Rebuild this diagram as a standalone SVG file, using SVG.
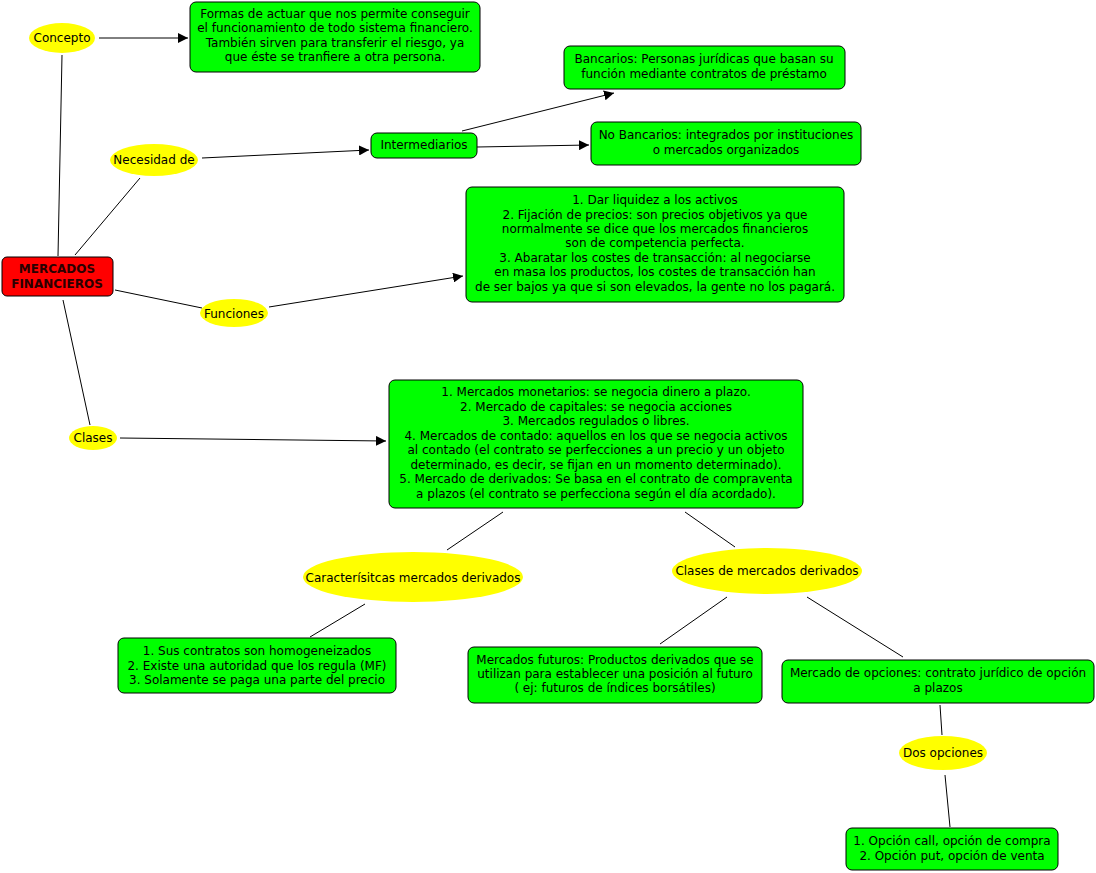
<svg xmlns="http://www.w3.org/2000/svg" width="1096" height="873" viewBox="0 0 1096 873">
<defs>
<style>
text{font-family:"DejaVu Sans","Verdana",sans-serif;font-size:12px;fill:#000;text-anchor:middle}
.box{fill:#00ff00;stroke:#000;stroke-width:1}
.ell{fill:#ffff00;stroke:none}
.root{fill:#ff0000;stroke:#000;stroke-width:1}
.bold{font-weight:bold;fill:#2a0000}
.c line{stroke:#000;stroke-width:1}
.c .a{marker-end:url(#arr)}
</style>
<marker id="arr" viewBox="0 0 10 10" refX="10" refY="5" markerWidth="10" markerHeight="10" markerUnits="userSpaceOnUse" orient="auto">
<path d="M0,0 L10,5 L0,10 z" fill="#000"/>
</marker>
</defs>
<rect width="1096" height="873" fill="#fff"/>
<g class="c" id="connectors">
<line class="a" x1="99" y1="38" x2="188" y2="38"/>
<line x1="62" y1="55" x2="58" y2="256"/>
<line x1="75" y1="255" x2="140" y2="178"/>
<line class="a" x1="202" y1="158" x2="369" y2="150"/>
<line class="a" x1="462" y1="131" x2="614" y2="93"/>
<line class="a" x1="477" y1="147" x2="589" y2="145"/>
<line x1="115" y1="290" x2="202" y2="308"/>
<line class="a" x1="269" y1="307" x2="463" y2="276"/>
<line x1="63" y1="300" x2="90" y2="425"/>
<line class="a" x1="120" y1="438" x2="386" y2="441"/>
<line x1="503" y1="512" x2="447" y2="550"/>
<line x1="685" y1="512" x2="735" y2="547"/>
<line x1="365" y1="604" x2="310" y2="637"/>
<line x1="727" y1="597" x2="660" y2="644"/>
<line x1="807" y1="597" x2="903" y2="657"/>
<line x1="940" y1="705" x2="942" y2="735"/>
<line x1="945" y1="775" x2="950" y2="827"/>
</g>
<g id="concepto"><ellipse class="ell" cx="62" cy="38" rx="33" ry="15"/><text x="62" y="42">Concepto</text></g>
<g id="concepto-def"><rect class="box" x="190" y="2" width="290" height="70" rx="6"/>
<text x="335" y="18">Formas de actuar que nos permite conseguir</text>
<text x="335" y="32">el funcionamiento de todo sistema financiero.</text>
<text x="335" y="47">También sirven para transferir el riesgo, ya</text>
<text x="335" y="61">que éste se tranfiere a otra persona.</text></g>
<g id="mercados"><rect class="root" x="2" y="257" width="111" height="39" rx="5"/>
<text class="bold" x="57" y="273">MERCADOS</text><text class="bold" x="57" y="288">FINANCIEROS</text></g>
<g id="necesidad"><ellipse class="ell" cx="154" cy="160" rx="44" ry="16"/><text x="154" y="164">Necesidad de</text></g>
<g id="intermediarios"><rect class="box" x="371" y="133" width="106" height="25" rx="6"/><text x="424" y="149">Intermediarios</text></g>
<g id="bancarios"><rect class="box" x="564" y="46" width="281" height="43" rx="6"/>
<text x="704" y="63">Bancarios: Personas jurídicas que basan su</text>
<text x="704" y="78">función mediante contratos de préstamo</text></g>
<g id="nobancarios"><rect class="box" x="591" y="122" width="270" height="43" rx="6"/>
<text x="726" y="139">No Bancarios: integrados por instituciones</text>
<text x="726" y="154">o mercados organizados</text></g>
<g id="funciones"><ellipse class="ell" cx="234" cy="313" rx="34" ry="14"/><text x="234" y="318">Funciones</text></g>
<g id="funciones-def"><rect class="box" x="466" y="187" width="378" height="115" rx="6"/>
<text x="655" y="204">1. Dar liquidez a los activos</text>
<text x="655" y="219">2. Fijación de precios: son precios objetivos ya que</text>
<text x="655" y="233">normalmente se dice que los mercados financieros</text>
<text x="655" y="247">son de competencia perfecta.</text>
<text x="655" y="262">3. Abaratar los costes de transacción: al negociarse</text>
<text x="655" y="276">en masa los productos, los costes de transacción han</text>
<text x="655" y="291">de ser bajos ya que si son elevados, la gente no los pagará.</text></g>
<g id="clases"><ellipse class="ell" cx="93" cy="438" rx="24" ry="12"/><text x="93" y="442">Clases</text></g>
<g id="clases-def"><rect class="box" x="389" y="380" width="414" height="128" rx="6"/>
<text x="596" y="396">1. Mercados monetarios: se negocia dinero a plazo.</text>
<text x="596" y="411">2. Mercado de capitales: se negocia acciones</text>
<text x="596" y="425">3. Mercados regulados o libres.</text>
<text x="596" y="440">4. Mercados de contado: aquellos en los que se negocia activos</text>
<text x="596" y="454">al contado (el contrato se perfecciones a un precio y un objeto</text>
<text x="596" y="469">determinado, es decir, se fijan en un momento determinado).</text>
<text x="596" y="483">5. Mercado de derivados: Se basa en el contrato de compraventa</text>
<text x="596" y="498">a plazos (el contrato se perfecciona según el día acordado).</text></g>
<g id="caracteristicas"><ellipse class="ell" cx="413" cy="577" rx="110" ry="25"/><text x="413" y="582">Caracterísitcas mercados derivados</text></g>
<g id="clases-derivados"><ellipse class="ell" cx="767" cy="571" rx="95" ry="23"/><text x="767" y="575">Clases de mercados derivados</text></g>
<g id="caract-def"><rect class="box" x="118" y="638" width="278" height="55" rx="6"/>
<text x="257" y="655">1. Sus contratos son homogeneizados</text>
<text x="257" y="670">2. Existe una autoridad que los regula (MF)</text>
<text x="257" y="684">3. Solamente se paga una parte del precio</text></g>
<g id="futuros"><rect class="box" x="468" y="647" width="294" height="56" rx="6"/>
<text x="615" y="664">Mercados futuros: Productos derivados que se</text>
<text x="615" y="678">utilizan para establecer una posición al futuro</text>
<text x="615" y="692">( ej: futuros de índices borsátiles)</text></g>
<g id="opciones"><rect class="box" x="782" y="660" width="312" height="43" rx="6"/>
<text x="938" y="677">Mercado de opciones: contrato jurídico de opción</text>
<text x="938" y="692">a plazos</text></g>
<g id="dos-opciones"><ellipse class="ell" cx="943" cy="753" rx="44" ry="17"/><text x="943" y="757">Dos opciones</text></g>
<g id="opciones-def"><rect class="box" x="846" y="828" width="212" height="42" rx="6"/>
<text x="952" y="845">1. Opción call, opción de compra</text>
<text x="952" y="860">2. Opción put, opción de venta</text></g>
</svg>
